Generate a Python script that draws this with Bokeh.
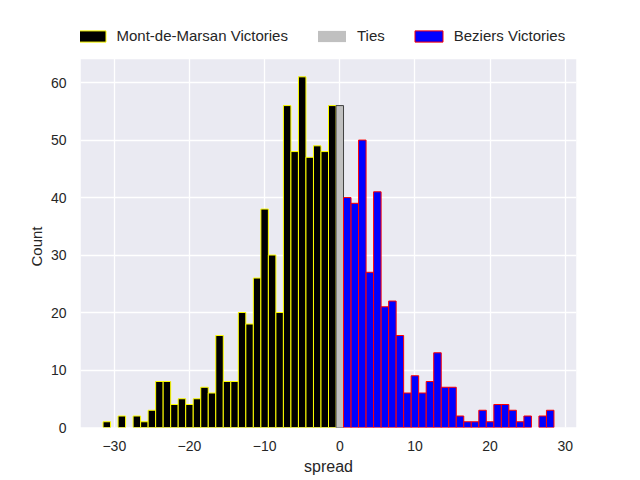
from bokeh.plotting import figure
from bokeh.models import (ColumnDataSource, Range1d, FixedTicker, Legend, LegendItem,
                          CustomJSTickFormatter, Title)
from bokeh.embed import file_html
from bokeh.resources import INLINE

# ---- data (bin width 1) ----
mdm_spread = [-31, -29, -27, -26, -25, -24, -23, -22, -21, -20, -19, -18, -17, -16,
              -15, -14, -13, -12, -11, -10, -9, -8, -7, -6, -5, -4, -3, -2, -1]
mdm_count = [1, 2, 2, 1, 3, 8, 8, 4, 5, 4, 5, 7, 6, 16,
             8, 8, 20, 18, 26, 38, 30, 20, 56, 48, 61, 47, 49, 48, 56]

tie_spread = [0]
tie_count = [56]

bez_spread = [1, 2, 3, 4, 5, 6, 7, 8, 9, 10, 11, 12, 13, 14, 15, 16, 17, 18, 19, 20,
              21, 22, 23, 24, 25, 27, 28]
bez_count = [40, 39, 50, 27, 41, 21, 22, 16, 6, 9, 6, 8, 13, 7, 7, 2, 1, 1, 3, 1,
             4, 4, 3, 1, 2, 2, 3]

x_ticks = [-30, -20, -10, 0, 10, 20, 30]
y_ticks = [0, 10, 20, 30, 40, 50, 60]

legend_labels = ["Mont-de-Marsan Victories", "Ties", "Beziers Victories"]

FONT = "Liberation Sans"
TXT = "#262626"

X0, X1 = -34.5, 31.5          # axes x limits
Y_TOP = 64.05                 # axes y limit (top of the grey panel)
Y_FRAME = 74.28               # frame extends above the panel to hold the legend

p = figure(width=640, height=480, output_backend="svg", toolbar_location=None,
           x_range=Range1d(X0, X1), y_range=Range1d(0, Y_FRAME),
           min_border_left=80, min_border_right=64, min_border_top=0,
           min_border_bottom=53)

p.background_fill_color = "white"
p.border_fill_color = "white"
p.outline_line_color = None

# grey axes panel
panel = p.quad(left=[X0], right=[X1], bottom=[0], top=[Y_TOP],
               fill_color="#EAEAF2", line_color=None, level="image")

src_m = ColumnDataSource(dict(x=mdm_spread, top=mdm_count))
src_t = ColumnDataSource(dict(x=tie_spread, top=tie_count))
src_b = ColumnDataSource(dict(x=bez_spread, top=bez_count))

r_m = p.vbar(x="x", top="top", bottom=0, width=1, source=src_m,
             fill_color="black", line_color="#FFFF00", line_width=1)
r_t = p.vbar(x="x", top="top", bottom=0, width=1, source=src_t,
             fill_color="#C0C0C0", line_color="#404040", line_width=1)
r_b = p.vbar(x="x", top="top", bottom=0, width=1, source=src_b,
             fill_color="#0000FF", line_color="#FF0000", line_width=1)

# legend-only proxy for ties (no edge in the legend swatch)
r_t_leg = p.vbar(x=[0], top=[1], bottom=0, width=1, fill_color="#C0C0C0",
                 line_color=None, visible=False)

for g in (p.xgrid, p.ygrid):
    g.grid_line_color = "white"
    g.grid_line_width = 1.3
p.xgrid.ticker = FixedTicker(ticks=x_ticks)
p.ygrid.ticker = FixedTicker(ticks=y_ticks)
p.xgrid.bounds = (0, Y_TOP)

p.xaxis.ticker = FixedTicker(ticks=x_ticks)
p.yaxis.ticker = FixedTicker(ticks=y_ticks)
p.yaxis.bounds = (0, Y_TOP)
p.xaxis.formatter = CustomJSTickFormatter(
    code="return tick < 0 ? '\u2212' + Math.abs(tick) : tick.toString();")

for ax in (p.xaxis, p.yaxis):
    ax.axis_line_color = None
    ax.major_tick_line_color = None
    ax.minor_tick_line_color = None
    ax.major_tick_out = 0
    ax.major_tick_in = 0
    ax.minor_tick_out = 0
    ax.major_label_text_font = FONT
    ax.major_label_text_font_size = "14px"
    ax.major_label_text_color = TXT
    ax.axis_label_text_font = FONT
    ax.axis_label_text_font_size = "16px"
    ax.axis_label_text_font_style = "normal"
    ax.axis_label_text_color = TXT

p.xaxis.axis_label = "spread"
p.xaxis.major_label_standoff = 13
p.xaxis.axis_label_standoff = 4
p.yaxis.major_label_standoff = 14

# y label as a left-side title, placed from the frame top so it centres on the grey panel
p.add_layout(Title(text="Count", align="right", offset=226, standoff=6,
                   text_font=FONT, text_font_size="15px", text_font_style="normal",
                   text_color=TXT), "left")

legend = Legend(items=[LegendItem(label=legend_labels[0], renderers=[r_m]),
                       LegendItem(label=legend_labels[1], renderers=[r_t_leg]),
                       LegendItem(label=legend_labels[2], renderers=[r_b])],
                orientation="horizontal", location=(-6.5, 383),
                glyph_width=35, glyph_height=14, label_standoff=8, spacing=26,
                padding=0, margin=0, border_line_color=None,
                background_fill_alpha=0, inactive_fill_alpha=0,
                label_text_font=FONT,
                label_text_font_size="15px", label_text_color=TXT)
p.add_layout(legend, "center")

open("out.html", "w").write(file_html(p, INLINE))
